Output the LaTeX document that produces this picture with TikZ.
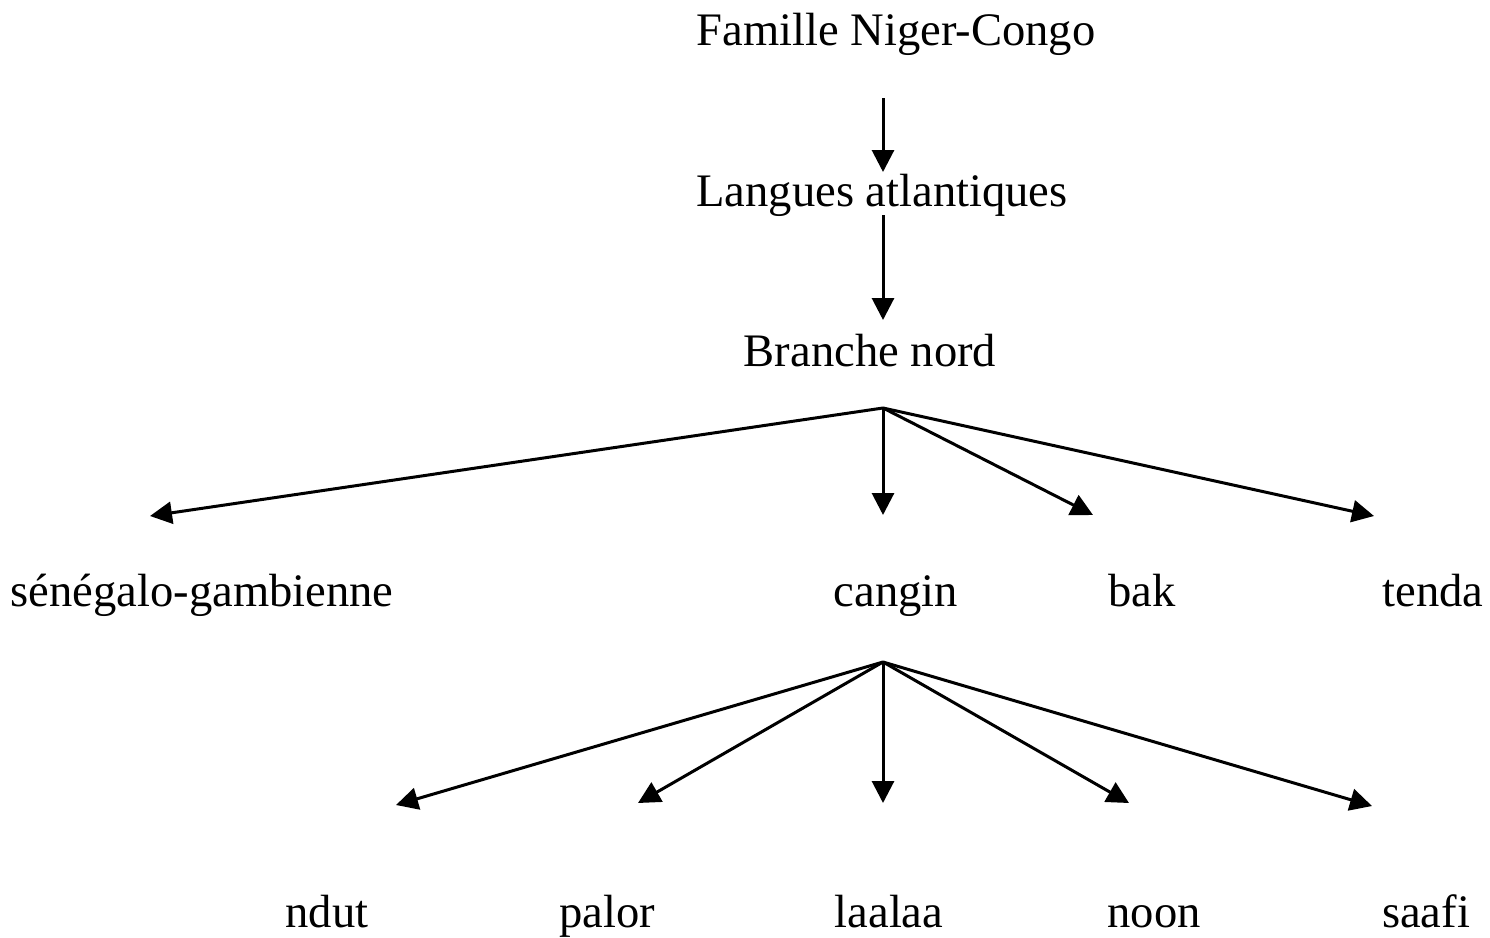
\documentclass[tikz,border=0pt]{standalone}
\usepackage{fontspec}
\setmainfont{Liberation Serif}
\usetikzlibrary{arrows.meta}
\begin{document}
\begin{tikzpicture}[x=1pt,y=-1pt,
  lbl/.style={anchor=base,inner sep=0pt,font=\fontsize{46.6}{50}\selectfont},
  arr/.style={line width=3pt,-{Triangle[length=22pt,width=22pt]}}]
\useasboundingbox (0,0) rectangle (1490,937);
\node[lbl] (fam) at (896,45) {Famille Niger-Congo};
\node[lbl] (lang) at (882,206) {Langues atlantiques};
\node[lbl] (bra) at (870,366) {Branche nord};
\node[lbl] (sen) at (202,606) {sénégalo-gambienne};
\node[lbl] (can) at (896,606) {cangin};
\node[lbl] (bak) at (1142,606) {bak};
\node[lbl] (ten) at (1433,606) {tenda};
\node[lbl] (ndu) at (327,927) {ndut};
\node[lbl] (pal) at (607,927) {palor};
\node[lbl] (laa) at (889,927) {laalaa};
\node[lbl] (noo) at (1154,927) {noon};
\node[lbl] (saa) at (1426,927) {saafi};
\coordinate (a1s) at (883,98);
\coordinate (a1e) at (883,172);
\coordinate (a2s) at (883,215);
\coordinate (a2e) at (883,320);
\coordinate (r1) at (883,408);
\coordinate (e1) at (150,516);
\coordinate (e2) at (883,515);
\coordinate (e3) at (1093,515);
\coordinate (e4) at (1374,516);
\coordinate (r2) at (883,662);
\coordinate (f1) at (396,805);
\coordinate (f2) at (638,803);
\coordinate (f3) at (883,803);
\coordinate (f4) at (1129,803);
\coordinate (f5) at (1372,806);
\draw[arr] (a1s) -- (a1e);
\draw[arr] (a2s) -- (a2e);
\foreach \t in {e1,e2,e3,e4} \draw[arr] (r1) -- (\t);
\foreach \t in {f1,f2,f3,f4,f5} \draw[arr] (r2) -- (\t);
\end{tikzpicture}
\end{document}
